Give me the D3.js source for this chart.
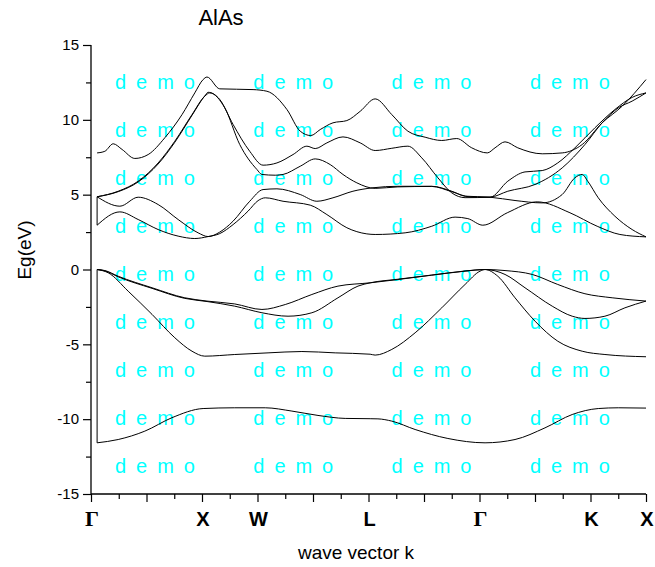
<!DOCTYPE html>
<html><head><meta charset="utf-8">
<script src="https://cdn.jsdelivr.net/npm/d3@7"></script>
<style>body{margin:0;background:#fff}svg{display:block}</style>
</head><body>
<svg id="c" width="655" height="567"></svg>
<script>
// ---- data (wave-vector coordinate 0..10, energy in eV) ----
const kTicks = [0, 2, 3, 5, 7, 9, 10];
const kLabels = ["Γ", "X", "W", "L", "Γ", "K", "X"];
const yTicks = [-15, -10, -5, 0, 5, 10, 15];

const k_s = [0.11,0.49,0.97,1.46,2.02,2.59,3.14,3.62,4.09,4.58,5.03,5.17,5.42,5.84,6.43,7.10,7.64,8.18,8.67,9.14,9.50,10.0];
const E_s = [-11.58,-11.36,-10.8,-9.9,-9.29,-9.24,-9.24,-9.46,-9.75,-9.95,-9.97,-9.98,-10.13,-10.69,-11.29,-11.58,-11.36,-10.58,-9.69,-9.29,-9.24,-9.26];

const k_v3 = [0.11,0.31,0.67,1.10,1.51,1.82,2.05,2.59,3.19,3.80,4.40,5.03,5.12,5.42,5.84,6.32,6.74,7.01,7.10,7.33,7.64,8.00,8.41,8.85,9.26,10.0];
const E_v3 = [0,-0.22,-1.45,-3.0,-4.56,-5.46,-5.79,-5.68,-5.57,-5.48,-5.57,-5.66,-5.72,-5.34,-4.23,-2.56,-1.0,-0.11,0,-0.45,-1.89,-3.45,-4.79,-5.46,-5.68,-5.83];

const k_v2 = [0.11,0.25,0.49,1.10,1.69,2.09,2.59,3.08,3.55,3.98,4.45,4.81,5.03,5.53,6.14,6.74,7.10,7.46,7.82,8.31,8.67,8.90,9.26,9.62,10.0];
const E_v2 = [0,-0.09,-0.49,-1.26,-1.93,-2.14,-2.45,-2.89,-3.12,-2.89,-1.89,-1.11,-0.89,-0.65,-0.37,-0.1,0,-0.33,-1.22,-2.45,-3.12,-3.27,-3.12,-2.56,-2.11];

const k_v1 = [0.11,0.25,0.49,1.10,1.69,2.09,2.59,3.08,3.50,3.98,4.45,5.03,5.53,6.14,6.74,7.10,7.46,7.95,8.41,8.90,9.39,10.0];
const E_v1 = [0,-0.07,-0.45,-1.22,-1.89,-2.11,-2.3,-2.67,-2.34,-1.67,-1.11,-0.89,-0.67,-0.38,-0.11,0,-0.07,-0.33,-1.0,-1.62,-1.89,-2.11];

const k_c1 = [0.11,0.52,0.85,1.21,1.57,1.87,2.11,2.32,2.56,2.83,3.01,3.14,3.46,3.95,4.25,4.61,4.97,5.12,5.66,6.14,6.56,6.79,7.06,7.50,8.04,8.63,9.12,9.53,10.0];
const E_c1 = [2.96,3.85,3.34,2.67,2.23,2.07,2.2,2.4,3.0,3.9,4.6,4.79,4.56,4.30,3.67,2.79,2.38,2.34,2.45,2.89,3.5,3.4,2.96,3.79,4.52,3.79,2.89,2.34,2.18];

const k_c2 = [0.11,0.52,0.85,1.21,1.57,1.93,2.11,2.32,2.56,2.86,3.10,3.35,3.77,4.07,4.36,4.72,5.08,5.53,6.14,6.50,6.74,7.19,7.64,8.13,8.49,8.72,8.85,8.95,9.14,9.44,9.75,10.0];
const E_c2 = [4.86,4.23,4.83,4.34,3.34,2.45,2.2,2.5,3.23,4.56,5.34,5.39,5.01,4.56,4.79,5.23,5.46,5.56,5.56,5.23,4.9,4.83,4.61,4.45,5.01,6.13,6.35,5.9,4.79,3.56,2.67,2.18];

const k_c3 = [0.11,0.49,0.85,1.21,1.51,1.82,2.05,2.14,2.41,2.68,2.99,3.08,3.32,3.46,3.77,4.04,4.31,4.54,4.79,5.12,5.53,6.14,6.50,6.83,7.19,7.51,7.82,8.13,8.41,8.72,9.08,9.44,9.75,10.0];
const E_c3 = [4.86,5.23,5.9,7.12,8.57,10.35,11.58,11.8,10.8,8.35,6.68,6.35,6.3,6.35,6.9,7.39,7.01,6.35,5.79,5.42,5.52,5.55,5.2,4.85,4.83,5.9,6.52,6.61,7.12,8.13,9.47,10.69,11.5,11.8];

const k_c4 = [0.11,0.49,0.85,1.21,1.51,1.82,2.05,2.11,2.32,2.56,2.86,3.10,3.35,3.64,3.89,4.04,4.25,4.54,4.85,5.12,5.42,5.71,5.96,6.25,6.50,6.74,7.19,7.51,8.00,8.49,8.90,9.21,9.50,9.75,10.0];
const E_c4 = [4.86,5.2,5.85,7.05,8.5,10.3,11.6,11.84,11.36,9.69,7.9,6.97,7.12,7.68,8.24,8.08,8.46,8.86,8.46,7.95,8.1,8.24,7.46,6.13,5.12,4.8,4.83,5.23,5.68,6.79,8.35,9.8,10.8,11.25,11.8];

const k_c5 = [0.11,0.25,0.40,0.56,0.79,1.03,1.33,1.64,1.87,2.02,2.09,2.32,2.92,3.17,3.53,3.77,3.96,4.13,4.36,4.61,4.85,5.12,5.42,5.71,6.02,6.32,6.59,6.86,7.14,7.28,7.46,7.69,8.13,8.49,8.85,9.21,9.57,10.0];
const E_c5 = [7.79,7.9,8.4,8.02,7.42,7.68,8.8,10.35,11.8,12.69,12.86,12.07,12.02,11.91,10.69,9.24,8.95,9.35,9.8,9.95,10.57,11.4,10.35,9.24,8.84,8.62,8.75,8.13,7.79,8.13,8.53,8.13,7.73,7.79,8.35,9.8,10.91,12.69];

// vertical joins drawn at the left Γ point
const joinK = 0.11;
const joinLow = [-11.58, 2.96];
const joinHigh = [0, 4.86];

const bands = [[k_s,E_s],[k_v3,E_v3],[k_v2,E_v2],[k_v1,E_v1],[k_c1,E_c1],[k_c2,E_c2],[k_c3,E_c3],[k_c4,E_c4],[k_c5,E_c5]];

// ---- drawing ----
const svg = d3.select("#c");
const x = d3.scaleLinear().domain([0, 10]).range([91, 646]);
const y = d3.scaleLinear().domain([-15, 15]).range([494, 45]);

// watermark
const wm = svg.append("g");
for (let r = 0; r < 9; r++) {
  for (let c = 0; c < 4; c++) {
    wm.append("text").attr("x", 115 + c * 138.3).attr("y", 89 + r * 48.04)
      .attr("fill", "#00ffff").attr("font-family", "Liberation Sans, Arial, sans-serif")
      .attr("font-size", 20).attr("letter-spacing", 2.2).text("d e m o");
  }
}

// bands
const line = d3.line().x(d => x(d[0])).y(d => y(d[1])).curve(d3.curveMonotoneX);
const gB = svg.append("g").attr("fill", "none").attr("stroke", "#000").attr("stroke-width", 1);
bands.forEach(([ks, es]) => {
  gB.append("path").attr("d", line(ks.map((k, i) => [k, es[i]])));
});
joinLow.forEach((lo, i) => {
  gB.append("line").attr("x1", x(joinK)).attr("x2", x(joinK)).attr("y1", y(lo)).attr("y2", y(joinHigh[i]));
});

// axes
const font = "Liberation Sans, Arial, sans-serif";
const yAxis = d3.axisLeft(y).tickValues(d3.range(-15, 15.1, 2.5)).tickSize(8)
  .tickFormat(d => yTicks.includes(d) ? d : "").tickPadding(4);
const gy = svg.append("g").attr("transform", "translate(91,0)").call(yAxis);
gy.select(".domain").attr("stroke-width", 1.3).attr("d", `M0,${y(15)}V${y(-15)}`);
gy.selectAll(".tick line").attr("stroke-width", 1.2).attr("x2", d => yTicks.includes(d) ? -8 : -5);
gy.selectAll(".tick text").attr("font-family", font).attr("font-size", 15).attr("fill", "#000");

const xAxis = d3.axisBottom(x).tickValues(d3.range(0, 10.01, 0.5)).tickSize(8).tickFormat("");
const gx = svg.append("g").attr("transform", `translate(0,${y(-15)})`).call(xAxis);
gx.select(".domain").attr("stroke-width", 1.3).attr("d", `M${x(0)},0H${x(10)}`);
gx.selectAll(".tick line").attr("stroke-width", 1.2).attr("y2", d => Number.isInteger(d) ? 8 : 5);

kTicks.forEach((k, i) => {
  const isG = kLabels[i] === "Γ";
  svg.append("text").attr("x", x(k) + 1).attr("y", 526).attr("text-anchor", "middle")
    .attr("font-family", isG ? "Liberation Serif, Times New Roman, serif" : font)
    .attr("font-weight", "bold").attr("font-size", isG ? 22 : 20).attr("fill", "#000").text(kLabels[i]);
});

// titles
svg.append("text").attr("x", 221).attr("y", 25).attr("text-anchor", "middle")
  .attr("font-family", font).attr("font-size", 22).text("AlAs");
svg.append("text").attr("x", 356).attr("y", 559).attr("text-anchor", "middle")
  .attr("font-family", font).attr("font-size", 19).text("wave vector k");
svg.append("text").attr("transform", "translate(31,250) rotate(-90)").attr("text-anchor", "middle")
  .attr("font-family", font).attr("font-size", 19).text("Eg(eV)");
</script>
</body></html>
